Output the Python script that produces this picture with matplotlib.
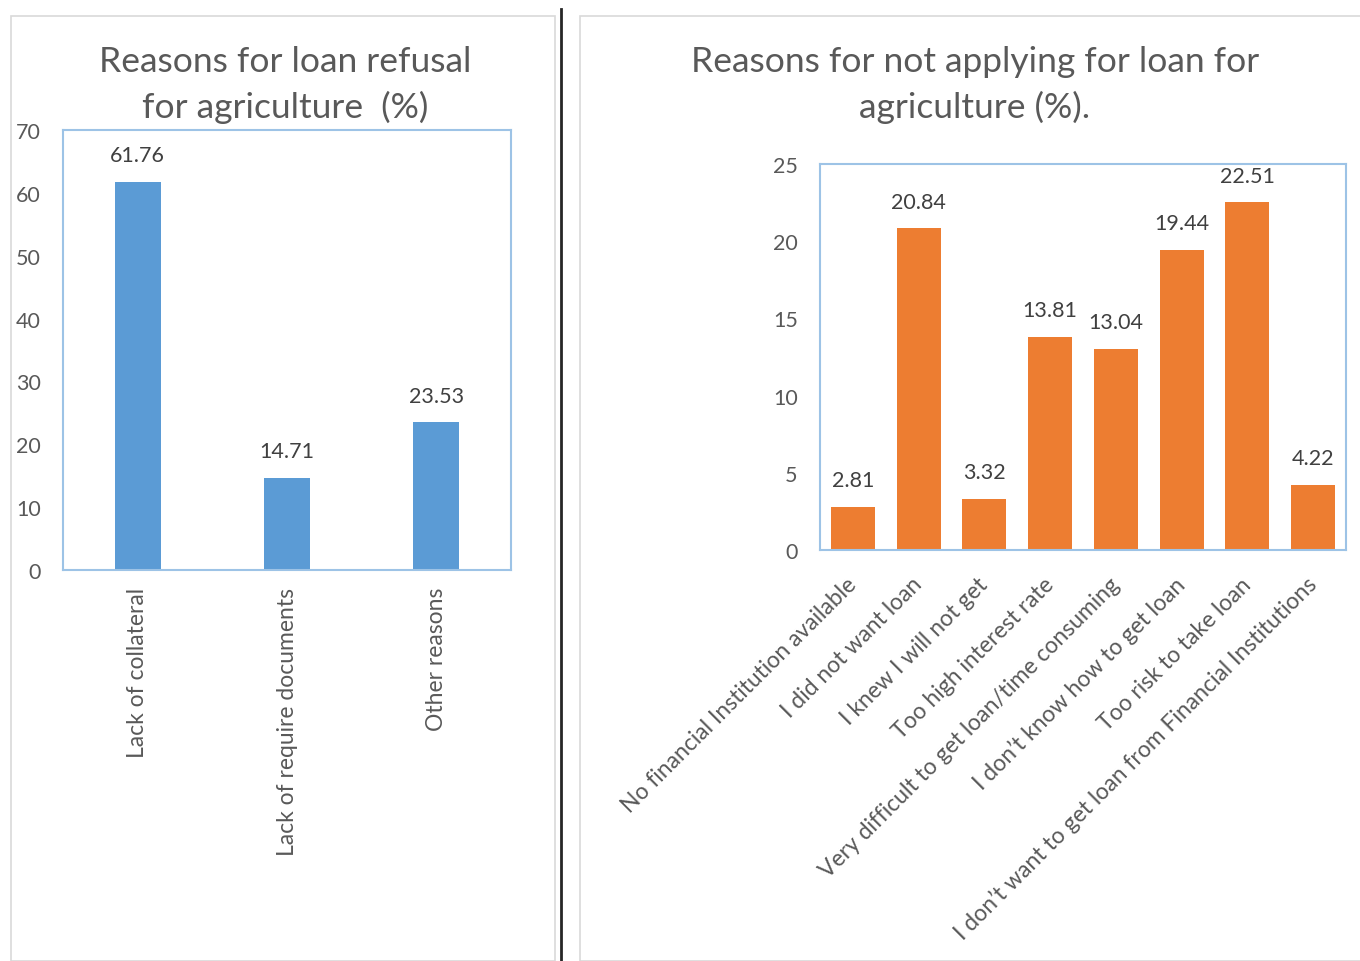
import matplotlib
matplotlib.use("Agg")
import matplotlib.pyplot as plt
from matplotlib.patches import Rectangle
from matplotlib.lines import Line2D

plt.rcParams['font.family'] = ['Lato', 'DejaVu Sans']

# Data
refusal_reasons = ["Lack of collateral", "Lack of require documents", "Other reasons"]
refusal_pct = [61.76, 14.71, 23.53]

not_applying_reasons = [
    "No financial Institution available",
    "I did not want loan",
    "I knew I will not get",
    "Too high interest rate",
    "Very difficult to get loan/time consuming",
    "I don\u2019t know how to get loan",
    "Too risk to take loan",
    "I don\u2019t want to get loan from Financial Institutions",
]
not_applying_pct = [2.81, 20.84, 3.32, 13.81, 13.04, 19.44, 22.51, 4.22]

W, H = 1360, 962
fig = plt.figure(figsize=(W / 100, H / 100), dpi=100)
fig.patch.set_facecolor("white")

TITLE_C = "#595959"
TICK_C = "#595959"
LABEL_C = "#404040"
SPINE_C = "#9DC3E6"
TICK_FS = 15.5
CAT_FS = 16.5
VAL_FS = 15.5
TITLE_FS = 25.5


def px_axes(x0, y0, x1, y1):
    return fig.add_axes([x0 / W, 1 - y1 / H, (x1 - x0) / W, (y1 - y0) / H])


def style(ax):
    for s in ax.spines.values():
        s.set_color(SPINE_C)
        s.set_linewidth(1.5)
    ax.tick_params(length=0, colors=TICK_C)
    ax.tick_params(axis="y", labelsize=TICK_FS, pad=16)
    ax.tick_params(axis="x", labelsize=CAT_FS)


# Panel frames and separator
fig.add_artist(Rectangle((11 / W, 0), (555 - 11) / W, 1 - 17 / H, transform=fig.transFigure,
                         fill=False, edgecolor="#D9D9D9", lw=1.2))
fig.add_artist(Rectangle((580 / W, 0), (1365 - 580) / W, 1 - 17 / H, transform=fig.transFigure,
                         fill=False, edgecolor="#D9D9D9", lw=1.2))
fig.add_artist(Line2D([561 / W, 561 / W], [0, 1 - 10 / H], transform=fig.transFigure,
                      color="#262626", lw=2))

# Left chart
ax1 = px_axes(63, 131, 511, 571)
style(ax1)
x1 = range(len(refusal_reasons))
ax1.bar(x1, refusal_pct, width=0.31, color="#5B9BD5")
ax1.set_xlim(-0.5, len(refusal_reasons) - 0.5)
ax1.set_ylim(0, 70)
ax1.set_yticks(range(0, 71, 10))
ax1.set_xticks(list(x1))
ax1.set_xticklabels(refusal_reasons, rotation=90, va="top", ha="center")
ax1.tick_params(axis="x", pad=12)
for xi, v in zip(x1, refusal_pct):
    ax1.annotate(f"{v:.2f}", (xi, v), xytext=(0, 19), textcoords="offset points",
                 ha="center", va="center", fontsize=VAL_FS, color=LABEL_C)
fig.text(285 / W, 1 - 85 / H, "Reasons for loan refusal\nfor agriculture  (%)",
         ha="center", va="center", fontsize=TITLE_FS, color=TITLE_C, linespacing=1.45)

# Right chart
ax2 = px_axes(820, 165, 1346, 551)
style(ax2)
x2 = range(len(not_applying_reasons))
ax2.bar(x2, not_applying_pct, width=0.67, color="#ED7D31")
ax2.set_xlim(-0.5, len(not_applying_reasons) - 0.5)
ax2.set_ylim(0, 25)
ax2.set_yticks(range(0, 26, 5))
ax2.set_xticks(list(x2))
ax2.set_xticklabels(not_applying_reasons, rotation=45, ha="right", va="center",
                    rotation_mode="anchor")
ax2.tick_params(axis="x", pad=22)
for xi, v in zip(x2, not_applying_pct):
    ax2.annotate(f"{v:.2f}", (xi, v), xytext=(0, 19), textcoords="offset points",
                 ha="center", va="center", fontsize=VAL_FS, color=LABEL_C)
fig.text(975 / W, 1 - 85 / H, "Reasons for not applying for loan for\nagriculture (%).",
         ha="center", va="center", fontsize=TITLE_FS, color=TITLE_C, linespacing=1.45)

fig.savefig("out.png", dpi=100, facecolor="white")
